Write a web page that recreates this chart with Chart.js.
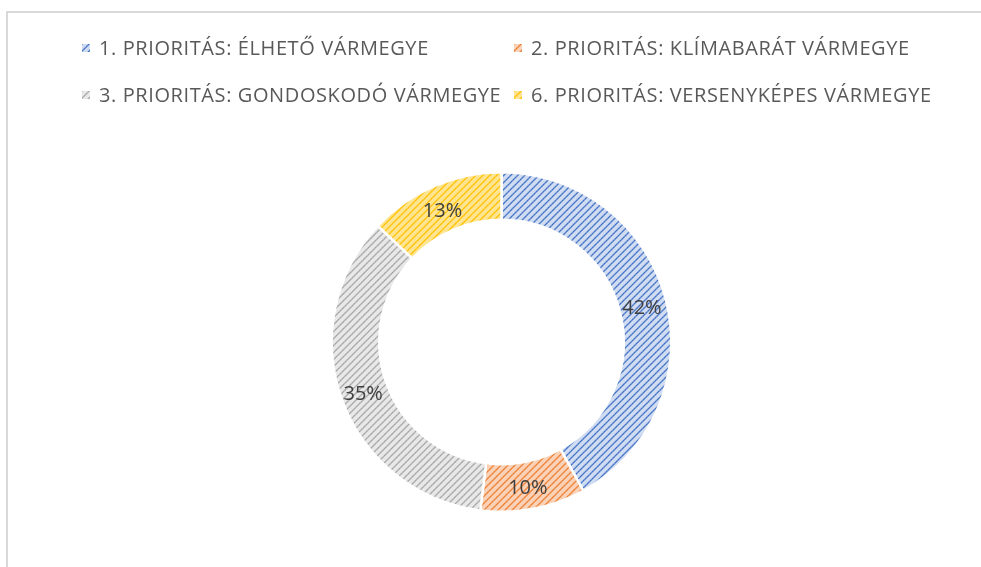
<!DOCTYPE html>
<html lang="hu">
<head>
  <meta charset="UTF-8">
  <title>Prioritások</title>
  <script src="https://cdn.jsdelivr.net/npm/chart.js"></script>
  <style>
    body {
      margin: 0;
      background: #ffffff;
      font-family: "Open Sans", Arial, sans-serif;
      width: 981px;
      height: 567px;
      overflow: hidden;
    }
    .frame {
      position: absolute;
      left: 6px;
      top: 11px;
      width: 1000px;
      height: 600px;
      border: 2px solid #d9d9d9;
      box-sizing: border-box;
    }
    .chart-box {
      position: absolute;
      left: 0;
      top: 0;
      width: 981px;
      height: 567px;
    }
    /* custom two-column legend */
    .legend {
      position: absolute;
      left: 82px;
      top: 34px;
      display: grid;
      grid-template-columns: 432px 432px;
      row-gap: 19px;
      color: #595959;
      font-size: 20px;
      letter-spacing: 0.6px;
      line-height: 28px;
    }
    .legend-item {
      display: flex;
      align-items: center;
      white-space: nowrap;
    }
    .legend-item canvas {
      width: 8px;
      height: 8px;
      margin-right: 9px;
    }
  </style>
</head>
<body>
  <div class="frame"></div>
  <div class="chart-box">
    <canvas id="donut" width="981" height="567"></canvas>
  </div>
  <div class="legend" id="legend"></div>

  <script>
    const categories = [
      '1. PRIORITÁS: ÉLHETŐ VÁRMEGYE',
      '2. PRIORITÁS: KLÍMABARÁT VÁRMEGYE',
      '3. PRIORITÁS: GONDOSKODÓ VÁRMEGYE',
      '6. PRIORITÁS: VERSENYKÉPES VÁRMEGYE'
    ];
    const shares = [42, 10, 35, 13];
    const lineColors = ['#4472c4', '#ed7d31', '#a5a5a5', '#ffc000'];
    const fillColors = ['#cfdcf2', '#f9d2b7', '#e8e8e8', '#ffe591'];

    // diagonal "/" hatch like the Office pattern fill
    function makeHatch(ctx, fg, bg) {
      const size = 7;
      const tile = document.createElement('canvas');
      tile.width = size;
      tile.height = size;
      const t = tile.getContext('2d');
      t.fillStyle = bg;
      t.fillRect(0, 0, size, size);
      t.fillStyle = fg;
      for (let i = 0; i < size; i++) {
        const y = size - 1 - i;
        t.globalAlpha = i % 2 ? 0.8 : 1;
        t.fillRect(i, y, 1, 1);
        t.globalAlpha = 0.55;
        t.fillRect((i + 1) % size, y, 1, 1);
        t.globalAlpha = 0.3;
        t.fillRect((i + size - 1) % size, y, 1, 1);
      }
      t.globalAlpha = 1;
      return ctx.createPattern(tile, 'repeat');
    }

    const ctx = document.getElementById('donut').getContext('2d');
    const patterns = lineColors.map((c, i) => makeHatch(ctx, c, fillColors[i]));

    // legend built from the same arrays
    const legendEl = document.getElementById('legend');
    categories.forEach((name, i) => {
      const item = document.createElement('div');
      item.className = 'legend-item';
      const box = document.createElement('canvas');
      box.width = 8;
      box.height = 8;
      const b = box.getContext('2d');
      b.fillStyle = makeHatch(b, lineColors[i], fillColors[i]);
      b.fillRect(0, 0, 8, 8);
      item.appendChild(box);
      const span = document.createElement('span');
      span.textContent = name;
      item.appendChild(span);
      legendEl.appendChild(item);
    });

    // percent labels in the middle of each ring segment
    const sliceLabels = {
      id: 'sliceLabels',
      afterDatasetsDraw(chart) {
        const c = chart.ctx;
        const meta = chart.getDatasetMeta(0);
        c.save();
        c.font = '20px "Open Sans", Arial, sans-serif';
        c.fillStyle = '#404040';
        c.textAlign = 'center';
        c.textBaseline = 'middle';
        meta.data.forEach((arc, i) => {
          const p = arc.getCenterPoint();
          c.fillText(shares[i] + '%', p.x - 1, p.y + 3);
        });
        c.restore();
      }
    };

    new Chart(ctx, {
      type: 'doughnut',
      data: {
        labels: categories,
        datasets: [{
          data: shares,
          backgroundColor: patterns,
          borderColor: '#ffffff',
          borderWidth: 2.5
        }]
      },
      options: {
        responsive: false,
        animation: false,
        cutout: '72%',
        layout: {
          padding: { left: 330, right: 308, top: 171, bottom: 54 }
        },
        plugins: {
          legend: { display: false },
          tooltip: { enabled: false }
        }
      },
      plugins: [sliceLabels]
    });
  </script>
</body>
</html>
